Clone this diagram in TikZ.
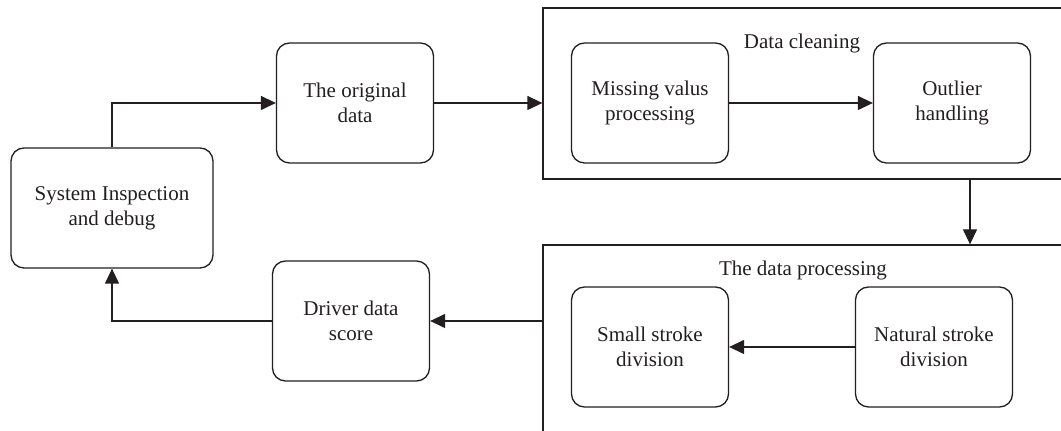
\documentclass[tikz,border=0pt]{standalone}
\usepackage{fontspec}
\setmainfont{Liberation Serif}
\usetikzlibrary{arrows.meta}
\definecolor{ink}{HTML}{231F20}
\tikzset{
  box/.style={draw=ink, line width=0.65pt, rounded corners=6.5pt, minimum width=78.5pt, minimum height=60pt, align=center, text=ink, font=\fontsize{10.5}{12.5}\selectfont, inner sep=0pt},
  container/.style={draw=ink, line width=0.65pt, inner sep=0pt},
  lbl/.style={text=ink, font=\fontsize{10.5}{12.5}\selectfont, inner sep=0pt},
  arr/.style={draw=ink, line width=0.65pt, -{Triangle[length=7.5pt,width=7pt]}},
}
\begin{document}
\begin{tikzpicture}[x=0.5pt,y=-0.5pt]
\clip (0,0) rectangle (1061,431);
\fill[white] (0,0) rectangle (1061,431);
% containers
\node[container, minimum width=268.5pt, minimum height=85.5pt] (clean) at (811.5,93.5) {};
\node[container, minimum width=268.5pt, minimum height=107.5pt] (proc) at (811.5,352.5) {};
\node[lbl] (cleanlbl) at (802,43) {Data cleaning};
\node[lbl] (proclbl) at (803,270) {The data processing};
% boxes
\node[box, minimum width=101pt] (sys) at (112,208) {System Inspection\\and debug};
\node[box] (orig) at (355,103) {The original\\data};
\node[box] (miss) at (650,103) {Missing valus\\processing};
\node[box] (outl) at (952,103) {Outlier\\handling};
\node[box] (small) at (650,347) {Small stroke\\division};
\node[box] (nat) at (934,347) {Natural stroke\\division};
\node[box] (drv) at (351,321) {Driver data\\score};
\coordinate (dx) at (970,0);
% connectors
\draw[arr] (sys.north) |- (orig.west);
\draw[arr] (orig.east) -- (orig.east -| clean.west);
\draw[arr] (miss.east) -- (outl.west);
\draw[arr] (clean.south -| dx) -- (proc.north -| dx);
\draw[arr] (nat.west) -- (small.east);
\draw[arr] (proc.west |- drv.east) -- (drv.east);
\draw[arr] (drv.west) -| (sys.south);
\end{tikzpicture}
\end{document}
